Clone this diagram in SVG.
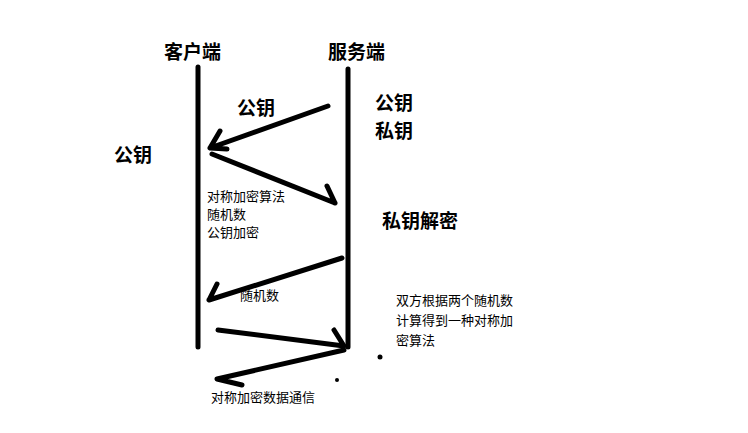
<svg xmlns="http://www.w3.org/2000/svg" width="748" height="433" viewBox="0 0 748 433">
<style>
.b{font-family:"Noto Sans CJK SC",sans-serif;font-weight:bold;font-size:19px;fill:#000}
.s{font-family:"Noto Sans CJK SC",sans-serif;font-size:13px;fill:#000}
.l{stroke:#000;stroke-width:5;fill:none;stroke-linecap:round;stroke-linejoin:round}
</style>
<rect width="748" height="433" fill="#fff"/>
<g id="client"><line class="l" x1="198" y1="67" x2="198" y2="347"/><text class="b" x="164" y="59">客户端</text><text class="b" x="114" y="162">公钥</text></g>
<g id="server"><line class="l" x1="348" y1="69" x2="348" y2="347"/><text class="b" x="328" y="59">服务端</text><text class="b" x="375" y="110">公钥</text><text class="b" x="375" y="138">私钥</text><text class="b" x="382" y="228">私钥解密</text></g>
<g id="connectors">
<path class="l" d="M328,106 L210,148 M220,131 L210,148 L227,149"/>
<path class="l" d="M212,154 L335,203 M327,186 L335,203"/>
<path class="l" d="M342,258 L209,300 M217,284 L209,300"/>
<path class="l" d="M218,330 L344,346 M334,330 L344,346"/>
<path class="l" d="M344,350 L217,379 L242,385"/>
<circle cx="380" cy="357" r="2.5"/><circle cx="337" cy="380" r="2"/>
</g>
<g id="labels">
<text class="b" x="237" y="115">公钥</text>
<text class="s" x="207" y="201">对称加密算法</text>
<text class="s" x="207" y="219">随机数</text>
<text class="s" x="207" y="237">公钥加密</text>
<text class="s" x="240" y="300">随机数</text>
<text class="s" x="396" y="305">双方根据两个随机数</text>
<text class="s" x="396" y="325">计算得到一种对称加</text>
<text class="s" x="396" y="345">密算法</text>
<text class="s" x="211" y="402">对称加密数据通信</text>
</g>
</svg>
